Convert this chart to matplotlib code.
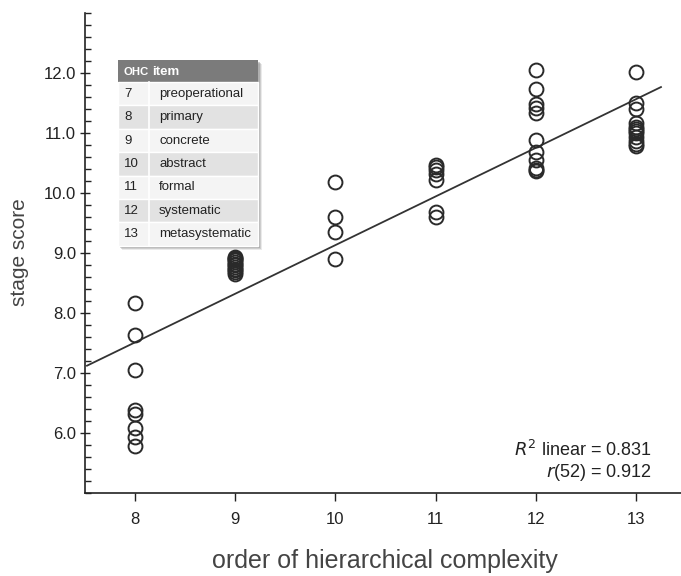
import numpy as np
import matplotlib
matplotlib.use("Agg")
import matplotlib.pyplot as plt
from matplotlib.ticker import MultipleLocator
from matplotlib.patches import Rectangle

plt.rcParams['font.family'] = ['Liberation Sans Narrow', 'Liberation Sans', 'DejaVu Sans']
SANS = ['Liberation Sans', 'DejaVu Sans']

# order of hierarchical complexity of each item, and the stage scores
ohc_levels = [8, 9, 10, 11, 12, 13]
scores_8 = [8.17, 7.63, 7.05, 6.38, 6.32, 6.08, 5.93, 5.78]
scores_9 = [8.94, 8.92, 8.90, 8.88, 8.85, 8.82, 8.80, 8.77, 8.74, 8.71, 8.68, 8.65]
scores_10 = [10.18, 9.60, 9.35, 8.90]
scores_11 = [10.47, 10.43, 10.38, 10.32, 10.22, 9.68, 9.60]
scores_12 = [12.05, 11.73, 11.48, 11.42, 11.33, 10.88, 10.68, 10.55, 10.42, 10.38, 10.36]
scores_13 = [12.02, 11.50, 11.40, 11.17, 11.10, 11.07, 11.03, 11.00, 10.93, 10.87, 10.82, 10.78]

r2_linear = 0.831
r_value = 0.912
df = 52

table_nums = ['7', '8', '9', '10', '11', '12', '13']
table_names = ['preoperational', 'primary', 'concrete', 'abstract',
               'formal', 'systematic', 'metasystematic']

groups = [scores_8, scores_9, scores_10, scores_11, scores_12, scores_13]
x = np.concatenate([[lvl] * len(g) for lvl, g in zip(ohc_levels, groups)])
y = np.concatenate(groups)

fig = plt.figure(figsize=(6.81, 5.76), dpi=100)
ax = fig.add_axes([85 / 681, 83 / 576, 596 / 681, 480 / 576])

ax.plot(x, y, 'o', ms=10, mfc='none', mec='#2a2a2a', mew=1.4, zorder=3)

slope, intercept = np.polyfit(x, y, 1)
xl = np.array([7.52, 13.25])
ax.plot(xl, intercept + slope * xl, color='#333333', lw=1.3, zorder=2)

ax.set_xlim(7.5, 13.45)
ax.set_ylim(5.0, 13.0)
ax.set_xticks(ohc_levels)
ax.set_yticks(np.arange(6, 13))
ax.set_yticklabels(['%.1f' % v for v in np.arange(6, 13)])
ax.yaxis.set_minor_locator(MultipleLocator(0.2))

for s in ['top', 'right']:
    ax.spines[s].set_visible(False)
for s in ['left', 'bottom']:
    ax.spines[s].set_color('#222222')
    ax.spines[s].set_linewidth(1.2)

ax.tick_params(axis='y', which='major', direction='inout', length=7, width=1, colors='#222222',
               labelsize=12, pad=3)
ax.tick_params(axis='y', which='minor', direction='in', length=4, width=1, colors='#222222')
ax.tick_params(axis='x', which='major', direction='out', length=6, width=1, colors='#222222',
               labelsize=12, pad=8)
for lab in ax.get_xticklabels() + ax.get_yticklabels():
    lab.set_color('#222222')

fig.text(20 / 681, 1 - 252 / 576, 'stage score', rotation=90, ha='center', va='center',
         fontsize=15, color='#444444', family=SANS)
fig.text(385 / 681, 1 - 561 / 576, 'order of hierarchical complexity', ha='center', va='center',
         fontsize=18, color='#444444', family=SANS)

ax.text(0.952, 0.090, r'$R^2$ linear = %.3f' % r2_linear, transform=ax.transAxes,
        ha='right', va='center', fontsize=13, color='#222222', family=SANS)
ax.text(0.952, 0.042, r'$r$(%d) = %.3f' % (df, r_value), transform=ax.transAxes,
        ha='right', va='center', fontsize=13, color='#222222', family=SANS)

# legend table, drawn in pixel coordinates on an overlay axes
tab = fig.add_axes([0, 0, 1, 1], facecolor='none')
tab.set_xlim(0, 681)
tab.set_ylim(576, 0)
tab.axis('off')
left, right, top, head_h, row_h = 118, 258, 60, 22, 23.4
bottom = top + head_h + row_h * len(table_nums)
for k, a in [(4, 0.15), (3, 0.25), (2, 0.35)]:
    tab.add_patch(Rectangle((left + k, top + k), right - left, bottom - top,
                            color='#777777', alpha=a, lw=0))
tab.add_patch(Rectangle((left, top), right - left, head_h, color='#7b7b7b', lw=0))
tab.text(left + 6, top + head_h / 2 + 1, 'OHC', fontsize=8.2, weight='bold', color='white',
         va='center', family=SANS)
tab.text(left + 34, top + head_h / 2 + 1, 'item', fontsize=9.5, weight='bold', color='white',
         va='center', family=SANS)
for i, (num, name) in enumerate(zip(table_nums, table_names)):
    y0 = top + head_h + i * row_h
    fc = '#f4f4f4' if i % 2 == 0 else '#e2e2e2'
    tab.add_patch(Rectangle((left, y0), right - left, row_h, fc=fc, ec='white', lw=1))
    tab.text(left + 6, y0 + row_h / 2, num, fontsize=9.5, va='center', color='#222222',
             family=SANS)
    tab.text(left + 41, y0 + row_h / 2, name, fontsize=9.5, va='center', color='#222222',
             family=SANS)
tab.plot([left + 31, left + 31], [top + head_h, bottom], color='white', lw=1.2)

fig.savefig('out.png', dpi=100)
